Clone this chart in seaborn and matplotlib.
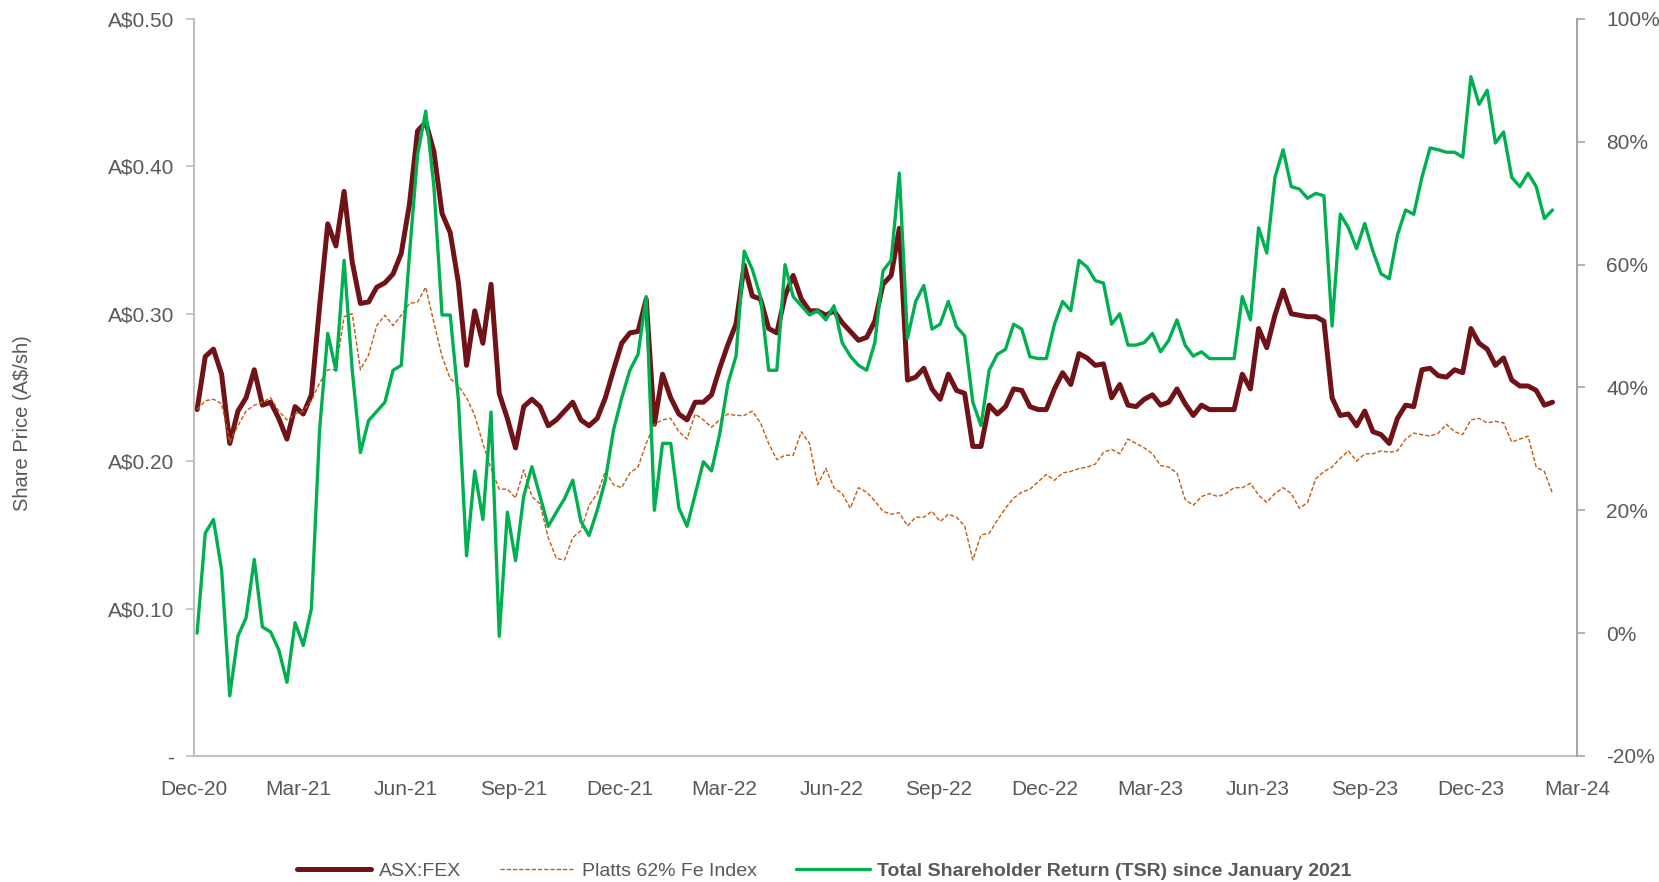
import numpy as np
import pandas as pd
import matplotlib.pyplot as plt
import matplotlib.dates as mdates
import matplotlib.ticker as mticker
import seaborn as sns

# weekly readings, first week of Dec-20 to mid Feb-24
week_dates = pd.date_range('2020-12-04', periods=167, freq='7D')

fex_price = [
    0.235, 0.271, 0.276, 0.259, 0.212, 0.234, 0.243, 0.262, 0.238, 0.240, 0.229, 0.215, 0.237, 0.232, 0.245, 0.305, 0.361, 0.346, 0.383, 0.335, 0.307, 0.308, 0.318, 0.321, 0.327, 0.341, 0.374, 0.424, 0.430,
    0.410, 0.368, 0.355, 0.321, 0.265, 0.302, 0.280, 0.320, 0.246, 0.229, 0.209, 0.237, 0.242, 0.237, 0.224, 0.228, 0.234, 0.240, 0.228, 0.224, 0.229, 0.243, 0.262, 0.280, 0.287, 0.288, 0.310, 0.225,
    0.259, 0.243, 0.232, 0.228, 0.240, 0.240, 0.245, 0.263, 0.279, 0.293, 0.333, 0.312, 0.310, 0.290, 0.287, 0.312, 0.326, 0.310, 0.302, 0.302, 0.299, 0.302, 0.294, 0.288, 0.282, 0.284, 0.295, 0.320,
    0.326, 0.358, 0.255, 0.257, 0.263, 0.249, 0.242, 0.259, 0.248, 0.246, 0.210, 0.210, 0.238, 0.232, 0.237, 0.249, 0.248, 0.237, 0.235, 0.235, 0.249, 0.260, 0.252, 0.273, 0.270, 0.265, 0.266, 0.243, 0.252,
    0.238, 0.237, 0.242, 0.245, 0.238, 0.240, 0.249, 0.239, 0.231, 0.238, 0.235, 0.235, 0.235, 0.235, 0.259, 0.249, 0.290, 0.277, 0.299, 0.316, 0.300, 0.299, 0.298, 0.298, 0.295, 0.243, 0.231, 0.232,
    0.224, 0.234, 0.220, 0.218, 0.212, 0.229, 0.238, 0.237, 0.262, 0.263, 0.258, 0.257, 0.262, 0.260, 0.290, 0.280, 0.276, 0.265, 0.270, 0.255, 0.251, 0.251, 0.248, 0.238, 0.240,
]

platts_index = [
    0.235, 0.241, 0.242, 0.239, 0.213, 0.224, 0.234, 0.238, 0.240, 0.243, 0.234, 0.228, 0.232, 0.234, 0.241, 0.253, 0.262, 0.262, 0.298, 0.300, 0.262, 0.272, 0.292, 0.299, 0.292, 0.299, 0.307, 0.308, 0.318,
    0.294, 0.271, 0.256, 0.251, 0.243, 0.231, 0.212, 0.195, 0.181, 0.181, 0.175, 0.194, 0.176, 0.171, 0.148, 0.134, 0.133, 0.148, 0.153, 0.170, 0.178, 0.193, 0.184, 0.182, 0.192, 0.196, 0.212, 0.225,
    0.228, 0.229, 0.220, 0.215, 0.232, 0.228, 0.223, 0.228, 0.232, 0.231, 0.231, 0.234, 0.226, 0.212, 0.201, 0.204, 0.204, 0.220, 0.212, 0.184, 0.195, 0.182, 0.178, 0.168, 0.182, 0.179, 0.173, 0.166,
    0.164, 0.165, 0.156, 0.162, 0.162, 0.166, 0.159, 0.164, 0.162, 0.156, 0.133, 0.150, 0.151, 0.160, 0.168, 0.175, 0.179, 0.181, 0.186, 0.191, 0.187, 0.192, 0.193, 0.195, 0.196, 0.198, 0.206, 0.208, 0.205,
    0.215, 0.212, 0.209, 0.205, 0.197, 0.196, 0.192, 0.174, 0.170, 0.176, 0.178, 0.176, 0.178, 0.182, 0.182, 0.185, 0.177, 0.172, 0.178, 0.182, 0.178, 0.168, 0.172, 0.188, 0.193, 0.196, 0.202, 0.207,
    0.200, 0.205, 0.205, 0.207, 0.206, 0.207, 0.215, 0.219, 0.218, 0.217, 0.219, 0.225, 0.220, 0.218, 0.228, 0.229, 0.226, 0.227, 0.226, 0.213, 0.215, 0.217, 0.196, 0.193, 0.178,
]

tsr_pct = [
    0.0, 16.3, 18.5, 10.3, -10.2, -0.5, 2.5, 12.0, 1.0, 0.2, -2.7, -8.0, 1.7, -2.0, 4.0, 33.1, 48.8, 42.8, 60.7, 42.8, 29.4, 34.6, 36.1, 37.6, 42.8, 43.6, 61.5, 77.9, 85.0,
    72.7, 51.8, 51.8, 38.0, 12.6, 26.4, 18.5, 36.0, -0.5, 19.7, 11.8, 22.3, 27.1, 22.3, 17.4, 19.7, 21.9, 24.9, 18.2, 15.9, 20.0, 24.9, 33.1, 38.3, 42.8, 45.4, 54.8, 20.0,
    30.9, 30.9, 20.4, 17.4, 22.6, 27.9, 26.4, 32.4, 40.6, 45.1, 62.2, 59.2, 54.8, 42.8, 42.8, 60.0, 54.8, 53.3, 51.8, 52.5, 51.0, 53.3, 47.3, 45.1, 43.6, 42.8, 47.3, 59.0,
    60.7, 74.9, 48.0, 54.0, 56.6, 49.5, 50.3, 54.0, 49.9, 48.4, 37.6, 33.8, 42.8, 45.4, 46.2, 50.3, 49.5, 45.0, 44.7, 44.7, 50.3, 54.0, 52.5, 60.7, 59.6, 57.4, 57.0, 50.3, 52.0,
    46.9, 46.9, 47.3, 48.8, 45.8, 47.7, 51.0, 46.9, 45.1, 45.8, 44.7, 44.7, 44.7, 44.7, 54.8, 51.0, 66.0, 61.9, 74.2, 78.7, 72.7, 72.3, 70.8, 71.6, 71.2, 50.0, 68.2, 66.0,
    62.6, 66.7, 62.2, 58.5, 57.7, 64.8, 68.9, 68.2, 74.2, 79.0, 78.7, 78.3, 78.3, 77.5, 90.6, 86.1, 88.4, 79.8, 81.6, 74.2, 72.7, 74.9, 72.7, 67.5, 68.9,
]

df = pd.DataFrame({'date': week_dates, 'fex': fex_price, 'platts': platts_index, 'tsr': tsr_pct})

sns.set_style('white')
plt.rcParams['font.family'] = ['Liberation Sans', 'DejaVu Sans']

txt_col = '#595959'
fig, ax = plt.subplots(figsize=(16.59, 8.82), dpi=100)
fig.subplots_adjust(left=0.1167, right=0.9506, bottom=0.1429, top=0.9785)
ax2 = ax.twinx()

sns.lineplot(data=df, x='date', y='fex', ax=ax, color='#701319', linewidth=3.6,
             label='ASX:FEX', legend=False)
sns.lineplot(data=df, x='date', y='platts', ax=ax, color='#C55A11', linewidth=1.0,
             linestyle=(0, (3, 1.5)), label='Platts 62% Fe Index', legend=False)
sns.lineplot(data=df, x='date', y='tsr', ax=ax2, color='#00B050', linewidth=2.4,
             label='Total Shareholder Return (TSR) since January 2021', legend=False)

ax.set_xlim(pd.Timestamp('2020-12-01'), pd.Timestamp('2024-03-01'))
ax.set_ylim(0, 0.5)
ax2.set_ylim(-20, 100)
ax.set_xlabel('')
ax.set_ylabel('')
ax2.set_ylabel('')

ax.xaxis.set_major_locator(mdates.MonthLocator(bymonth=[3, 6, 9, 12]))
ax.xaxis.set_major_formatter(mdates.DateFormatter('%b-%y'))
ax.yaxis.set_major_locator(mticker.MultipleLocator(0.1))
ax.yaxis.set_major_formatter(mticker.FuncFormatter(lambda v, p: '-' if abs(v) < 1e-9 else f'A\\${v:.2f}'))
ax2.yaxis.set_major_locator(mticker.MultipleLocator(20))
ax2.yaxis.set_major_formatter(mticker.FuncFormatter(lambda v, p: f'{v:.0f}%'))

for a in (ax, ax2):
    a.spines['top'].set_visible(False)
ax.spines['right'].set_visible(False)
ax2.spines['left'].set_visible(False)
ax2.spines['bottom'].set_visible(False)
ax.spines['left'].set_color('#BFBFBF')
ax.spines['bottom'].set_color('#BFBFBF')
ax2.spines['right'].set_color('#A6A6A6')
for s in ('left', 'bottom'):
    ax.spines[s].set_linewidth(1.5)
ax2.spines['right'].set_linewidth(1.5)

ax.tick_params(axis='x', direction='out', length=6, width=1.2, color='#BFBFBF',
               labelsize=15, labelcolor=txt_col, pad=11)
ax.tick_params(axis='y', direction='out', length=6, width=1.2, color='#BFBFBF',
               labelsize=15, labelcolor=txt_col, pad=8)
ax2.tick_params(axis='y', direction='out', length=6, width=1.2, color='#A6A6A6',
                labelsize=15, labelcolor=txt_col, pad=15)

fig.text(23 / 1659, 0.52, 'Share Price (A\\$/sh)', rotation=90, ha='center', va='center',
         fontsize=14.5, color=txt_col)

h1, l1 = ax.get_legend_handles_labels()
h2, l2 = ax2.get_legend_handles_labels()
leg = fig.legend(h1 + h2, l1 + l2, loc='center', bbox_to_anchor=(0.497, 0.012), ncol=3,
                 frameon=False, fontsize=14, handlelength=3.8, handletextpad=0.4,
                 columnspacing=2.0)
for t in leg.get_texts():
    t.set_color(txt_col)
leg.get_texts()[2].set_fontweight('bold')

fig.savefig('out.png', dpi=100)
